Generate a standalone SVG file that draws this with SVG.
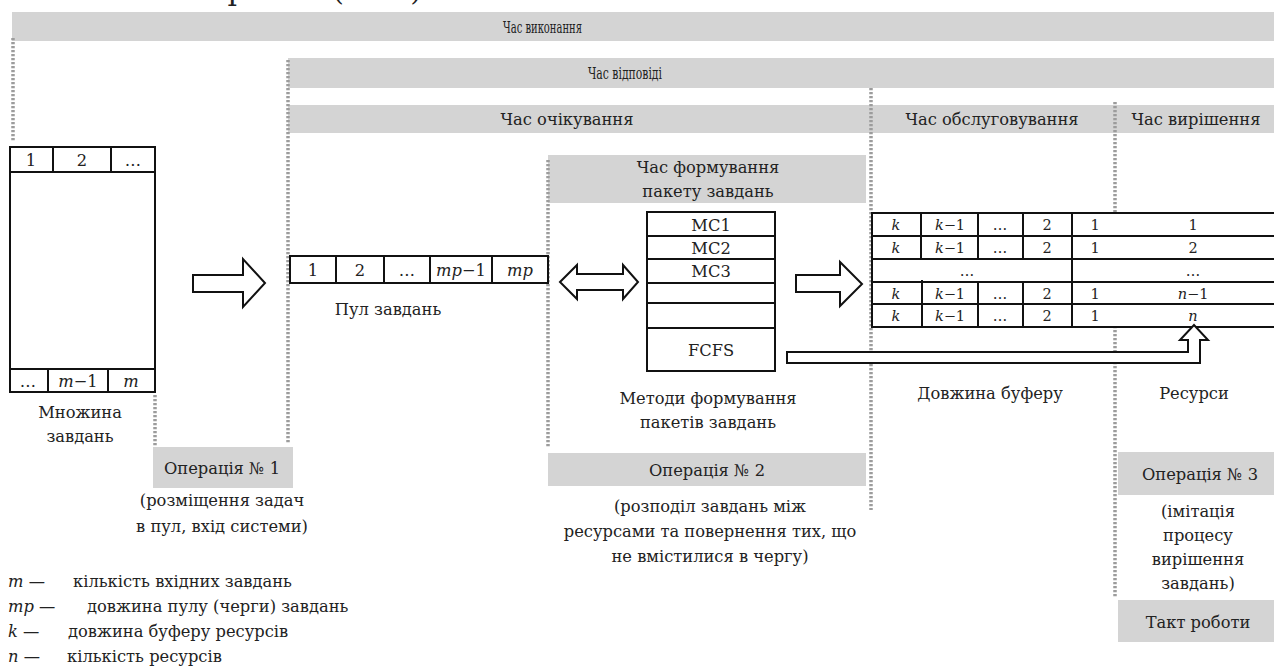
<svg xmlns="http://www.w3.org/2000/svg" width="1274" height="670" viewBox="0 0 1274 670">
<style>
.t{font-family:"DejaVu Serif","Liberation Serif",serif;font-size:16.3px;fill:#222;text-anchor:middle}
.s{font-size:14.5px}
.i{font-style:italic}
.st{text-anchor:start}
.bar{fill:#d4d4d4}
.dot{stroke:#9c9c9c;stroke-width:3.5;stroke-dasharray:2.2 1.8;fill:none}
.box{fill:#fff;stroke:#111;stroke-width:2}
.ln{stroke:#111;stroke-width:2;fill:none}
.arr{fill:#fff;stroke:#111;stroke-width:2;stroke-linejoin:miter}
</style>
<rect width="1274" height="670" fill="#fff"/>
<g id="page-fragment">
<text class="t" x="237" y="0" style="font-size:30px">р</text>
<text class="t" x="338" y="0" style="font-size:30px">(</text>
<text class="t" x="416" y="0" style="font-size:30px">)</text>
</g>
<g id="bars">
<rect class="bar" x="12" y="12" width="1262" height="29"/>
<text class="t st" x="503" y="33" textLength="79" lengthAdjust="spacingAndGlyphs" style="font-size:16px">Час виконання</text>
<rect class="bar" x="288" y="58" width="986" height="30"/>
<text class="t st" x="588" y="79" textLength="74" lengthAdjust="spacingAndGlyphs" style="font-size:16px">Час відповіді</text>
<rect class="bar" x="288" y="105" width="986" height="28"/>
<text class="t" x="567" y="125">Час очікування</text>
<text class="t" x="992" y="125">Час обслуговування</text>
<text class="t" x="1196" y="125">Час вирішення</text>
<rect class="bar" x="548" y="155" width="318" height="48"/>
<text class="t" x="708" y="173">Час формування</text>
<text class="t" x="708" y="197">пакету завдань</text>
</g>
<g id="dotted-lines">
<line class="dot" x1="13" y1="38" x2="13" y2="141"/>
<line class="dot" x1="288" y1="60" x2="288" y2="444"/>
<line class="dot" x1="155" y1="395" x2="155" y2="447"/>
<line class="dot" x1="548" y1="160" x2="548" y2="447"/>
<line class="dot" x1="871" y1="88" x2="871" y2="510"/>
<line class="dot" x1="1115" y1="102" x2="1115" y2="598"/>
</g>
<g id="task-set">
<rect class="box" x="10" y="147" width="145" height="245"/>
<line class="ln" x1="10" y1="172" x2="155" y2="172"/>
<line class="ln" x1="53" y1="147" x2="53" y2="172"/>
<line class="ln" x1="111" y1="147" x2="111" y2="172"/>
<line class="ln" x1="10" y1="369" x2="155" y2="369"/>
<line class="ln" x1="48" y1="369" x2="48" y2="392"/>
<line class="ln" x1="108" y1="369" x2="108" y2="392"/>
<text class="t" x="31" y="166">1</text>
<text class="t" x="82" y="166">2</text>
<text class="t" x="133" y="166">…</text>
<text class="t" x="28" y="387">…</text>
<text class="t" x="78" y="387"><tspan class="i">m</tspan>−1</text>
<text class="t i" x="131" y="387">m</text>
<text class="t" x="80" y="418">Множина</text>
<text class="t" x="80" y="442">завдань</text>
</g>
<g id="task-pool">
<rect class="box" x="290" y="256" width="258" height="27"/>
<line class="ln" x1="336" y1="256" x2="336" y2="283"/>
<line class="ln" x1="384" y1="256" x2="384" y2="283"/>
<line class="ln" x1="430" y1="256" x2="430" y2="283"/>
<line class="ln" x1="492" y1="256" x2="492" y2="283"/>
<text class="t" x="313" y="276">1</text>
<text class="t" x="360" y="276">2</text>
<text class="t" x="407" y="276">…</text>
<text class="t" x="461" y="276"><tspan class="i">mp</tspan>−1</text>
<text class="t i" x="520" y="276">mp</text>
<text class="t" x="388" y="315">Пул завдань</text>
</g>
<g id="methods">
<rect class="box" x="647" y="212" width="128" height="159"/>
<line class="ln" x1="647" y1="236" x2="775" y2="236"/>
<line class="ln" x1="647" y1="259" x2="775" y2="259"/>
<line class="ln" x1="647" y1="283" x2="775" y2="283"/>
<line class="ln" x1="647" y1="303" x2="775" y2="303"/>
<line class="ln" x1="647" y1="328" x2="775" y2="328"/>
<text class="t" x="711" y="231">MC1</text>
<text class="t" x="711" y="254">MC2</text>
<text class="t" x="711" y="277">MC3</text>
<text class="t" x="711" y="356">FCFS</text>
<text class="t" x="708" y="404">Методи формування</text>
<text class="t" x="708" y="428">пакетів завдань</text>
</g>
<g id="buffers">
<rect class="box" x="872" y="213" width="410" height="114"/>
<line class="ln" x1="872" y1="236" x2="1274" y2="236"/>
<line class="ln" x1="872" y1="259" x2="1274" y2="259"/>
<line class="ln" x1="872" y1="282" x2="1274" y2="282"/>
<line class="ln" x1="872" y1="304" x2="1274" y2="304"/>
<line class="ln" x1="1072" y1="213" x2="1072" y2="327"/>
<line class="ln" x1="921" y1="213" x2="921" y2="259"/>
<line class="ln" x1="978" y1="213" x2="978" y2="259"/>
<line class="ln" x1="1023" y1="213" x2="1023" y2="259"/>
<line class="ln" x1="922" y1="280" x2="922" y2="327"/>
<line class="ln" x1="978" y1="282" x2="978" y2="327"/>
<line class="ln" x1="1023" y1="282" x2="1023" y2="327"/>
<text class="t s i" x="896" y="230">k</text>
<text class="t s" x="950" y="230"><tspan class="i">k</tspan>−1</text>
<text class="t s" x="1000" y="230">…</text>
<text class="t s" x="1047" y="230">2</text>
<text class="t s" x="1095" y="230">1</text>
<text class="t s" x="1193" y="230">1</text>
<text class="t s i" x="896" y="253">k</text>
<text class="t s" x="950" y="253"><tspan class="i">k</tspan>−1</text>
<text class="t s" x="1000" y="253">…</text>
<text class="t s" x="1047" y="253">2</text>
<text class="t s" x="1095" y="253">1</text>
<text class="t s" x="1193" y="253">2</text>
<text class="t s" x="967" y="276">…</text>
<text class="t s" x="1193" y="276">…</text>
<text class="t s i" x="896" y="299">k</text>
<text class="t s" x="950" y="299"><tspan class="i">k</tspan>−1</text>
<text class="t s" x="1000" y="299">…</text>
<text class="t s" x="1047" y="299">2</text>
<text class="t s" x="1095" y="299">1</text>
<text class="t s" x="1193" y="299"><tspan class="i">n</tspan>−1</text>
<text class="t s i" x="896" y="321">k</text>
<text class="t s" x="950" y="321"><tspan class="i">k</tspan>−1</text>
<text class="t s" x="1000" y="321">…</text>
<text class="t s" x="1047" y="321">2</text>
<text class="t s" x="1095" y="321">1</text>
<text class="t s i" x="1193" y="321">n</text>
<text class="t" x="990" y="399">Довжина буферу</text>
<text class="t" x="1194" y="399">Ресурси</text>
</g>
<g id="connectors">
<polygon class="arr" points="193,275 243,275 243,259 265,283 243,307 243,292 193,292"/>
<polygon class="arr" points="560,282 577,265 577,274 623,274 623,265 638,282 623,299 623,290 577,290 577,299"/>
<polygon class="arr" points="796,275 840,275 840,262 862,284 840,306 840,292 796,292"/>
<polygon class="arr" points="787,352 1188,352 1188,340 1180,340 1194,325 1208,340 1200,340 1200,363 787,363"/>
</g>
<g id="operation-1">
<rect class="bar" x="153" y="447" width="140" height="41"/>
<text class="t" x="222" y="474">Операція № 1</text>
<text class="t" x="222" y="506">(розміщення задач</text>
<text class="t" x="222" y="532">в пул, вхід системи)</text>
</g>
<g id="operation-2">
<rect class="bar" x="548" y="453" width="318" height="33"/>
<text class="t" x="707" y="476">Операція № 2</text>
<text class="t" x="710" y="512">(розподіл завдань між</text>
<text class="t" x="710" y="537">ресурсами та повернення тих, що</text>
<text class="t" x="710" y="562">не вмістилися в чергу)</text>
</g>
<g id="operation-3">
<rect class="bar" x="1118" y="452" width="156" height="43"/>
<text class="t" x="1200" y="480">Операція № 3</text>
<text class="t" x="1198" y="517">(імітація</text>
<text class="t" x="1198" y="541">процесу</text>
<text class="t" x="1198" y="565">вирішення</text>
<text class="t" x="1198" y="589">завдань)</text>
</g>
<g id="work-cycle">
<rect class="bar" x="1118" y="600" width="156" height="42"/>
<text class="t" x="1198" y="628">Такт роботи</text>
</g>
<g id="legend">
<text class="t st" x="8" y="587"><tspan class="i">m</tspan> —</text>
<text class="t st" x="73" y="587">кількість вхідних завдань</text>
<text class="t st" x="8" y="612"><tspan class="i">mp</tspan> —</text>
<text class="t st" x="87" y="612">довжина пулу (черги) завдань</text>
<text class="t st" x="8" y="637"><tspan class="i">k</tspan> —</text>
<text class="t st" x="68" y="637">довжина буферу ресурсів</text>
<text class="t st" x="8" y="662"><tspan class="i">n</tspan> —</text>
<text class="t st" x="67" y="662">кількість ресурсів</text>
</g>
</svg>
